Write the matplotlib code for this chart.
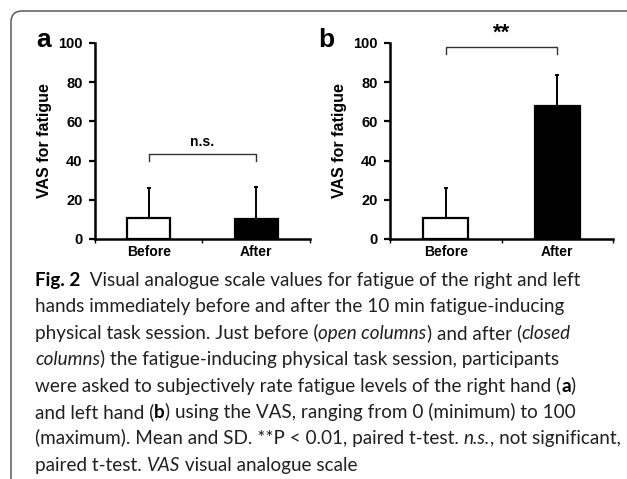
import matplotlib
matplotlib.use("Agg")
import matplotlib.pyplot as plt
from matplotlib.patches import FancyBboxPatch
from matplotlib.transforms import IdentityTransform

# data
groups = ["Before", "After"]
mean_a = [10.5, 10.4]
sd_a = [15.3, 15.9]
mean_b = [10.5, 67.9]
sd_b = [15.3, 16.0]
bar_colors = ["white", "black"]

fig = plt.figure(figsize=(6.27, 4.79), dpi=100)
plt.rcParams['font.family'] = ['Liberation Sans', 'DejaVu Sans']

W, H = 627.0, 479.0


def panel(rect, means, sds, letter, letter_x, bracket_y, bracket_drop, sig, sig_y, sig_size):
    ax = fig.add_axes(rect)
    pos = [0.5, 1.5]
    ax.bar(pos, means, width=0.4, color=bar_colors, edgecolor="black", linewidth=1.6, zorder=2)
    ax.errorbar(pos, means, yerr=[[0, 0], sds], fmt="none", ecolor="black",
                elinewidth=1.4, capsize=1.5, capthick=1.4, zorder=1)
    ax.set_xlim(0, 2)
    ax.set_ylim(0, 100)
    ax.set_yticks([0, 20, 40, 60, 80, 100])
    ax.set_xticks([0, 1, 2])
    ax.set_xticklabels([])
    ax.set_xticks(pos, minor=True)
    ax.set_xticklabels(groups, minor=True, fontsize=10, fontweight="bold")
    ax.tick_params(axis="x", which="minor", length=0, pad=4)
    ax.tick_params(axis="x", which="major", length=3, width=1)
    ax.tick_params(axis="y", length=4, width=1.6, labelsize=10.5, pad=5)
    for lab in ax.get_yticklabels():
        lab.set_fontweight("bold")
    for s in ["top", "right"]:
        ax.spines[s].set_visible(False)
    for s in ["left", "bottom"]:
        ax.spines[s].set_linewidth(1.8)
    ax.set_ylabel("VAS for fatigue", fontsize=11.5, fontweight="bold", labelpad=4)
    # significance bracket
    ax.plot([0.5, 0.5, 1.5, 1.5], [bracket_drop, bracket_y, bracket_y, bracket_drop],
            color="#333333", lw=1.0, clip_on=False)
    ax.text(1.0, sig_y, sig, ha="center", va="bottom", fontsize=sig_size,
            fontweight="bold", clip_on=False)
    fig.text(letter_x / W, (H - 47) / H, letter, fontsize=19,
             fontweight="bold", ha="left", va="baseline")
    return ax


panel([95 / W, 240 / H, 215 / W, 196 / H], mean_a, sd_a, "a", 36, 43.5, 40, "n.s.", 46, 10)
panel([390 / W, 240 / H, 223 / W, 196 / H], mean_b, sd_b, "b", 318, 98, 94.2, "**", 99.5, 16)

# rounded frame around figure (only top/left visible)
frame = FancyBboxPatch((11, -40), 700, 468 + 40, boxstyle="round,pad=0,rounding_size=11",
                       transform=IdentityTransform(), fill=False, edgecolor="#5a5a5a",
                       linewidth=1.1)
fig.patches.append(frame)

# caption, drawn as runs of regular / bold / italic text
cap_font = ['Lato', 'DejaVu Sans']
cap_color = "#231f20"
cap_size = 13.55
caption = [
    [("Fig. 2", "bold"), ("  Visual analogue scale values for fatigue of the right and left", "normal")],
    [("hands immediately before and after the 10 min fatigue-inducing", "normal")],
    [("physical task session. Just before (", "normal"), ("open columns", "italic"),
     (") and after (", "normal"), ("closed", "italic")],
    [("columns", "italic"), (") the fatigue-inducing physical task session, participants", "normal")],
    [("were asked to subjectively rate fatigue levels of the right hand (", "normal"),
     ("a", "bold"), (")", "normal")],
    [("and left hand (", "normal"), ("b", "bold"),
     (") using the VAS, ranging from 0 (minimum) to 100", "normal")],
    [("(maximum). Mean and SD. **P < 0.01, paired t-test. ", "normal"), ("n.s.", "italic"),
     (", not significant,", "normal")],
    [("paired t-test. ", "normal"), ("VAS", "italic"), (" visual analogue scale", "normal")],
]

x0 = 35 / W
y_first = (H - 286) / H
dy = 26.4 / H
for i, runs in enumerate(caption):
    prev = None
    for txt, sty in runs:
        kw = dict(fontsize=cap_size, color=cap_color, family=cap_font)
        if sty == "bold":
            kw["fontweight"] = "bold"
            kw["color"] = "black"
        elif sty == "italic":
            kw["fontstyle"] = "italic"
        if prev is None:
            prev = fig.text(x0, y_first - i * dy, txt, va="baseline", ha="left", **kw)
        else:
            prev = fig.add_artist(matplotlib.text.Annotation(
                txt, xy=(1, 0), xycoords=prev, va="bottom", ha="left", **kw))

fig.savefig("out.png", dpi=100)
